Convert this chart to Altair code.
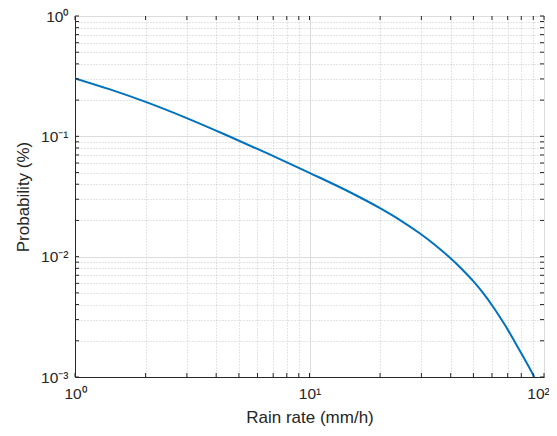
import altair as alt
import pandas as pd

# Curve values (rain rate in mm/h, probability in %)
rain_rate = [1, 1.41, 2, 3.012, 4.435, 6.653, 10, 14.885, 19.98, 24.32, 29.6, 34.29, 39.73,
             44.7, 49.94, 54.94, 60.42, 64.92, 69.74, 74.49, 80.33, 85.46, 90.92]
probability = [0.3034, 0.2454, 0.1932, 0.1411, 0.1021, 0.07181, 0.04973, 0.0343, 0.0253, 0.02015,
               0.01556, 0.01251, 0.009792, 0.007872, 0.006257, 0.004992, 0.00387, 0.003135,
               0.002511, 0.002007, 0.001553, 0.001251, 0.001002]

x_ticks = [1, 2, 3, 4, 5, 6, 7, 8, 9, 10, 20, 30, 40, 50, 60, 70, 80, 90, 100]
y_ticks = [0.001, 0.002, 0.003, 0.004, 0.005, 0.006, 0.007, 0.008, 0.009,
           0.01, 0.02, 0.03, 0.04, 0.05, 0.06, 0.07, 0.08, 0.09,
           0.1, 0.2, 0.3, 0.4, 0.5, 0.6, 0.7, 0.8, 0.9, 1]

W, H = 469, 361
INK = "#262626"
FONT = "Liberation Sans"

curve = pd.DataFrame({"x": rain_rate, "y": probability})
xt = pd.DataFrame({"x": x_ticks})
yt = pd.DataFrame({"y": y_ticks})

decade = "abs(log(datum.value)/LN10 - round(log(datum.value)/LN10)) < 1e-6"
exp = "round(log(datum.value)/LN10)"
label_expr = (
    f"!({decade}) ? '' : "
    f"{exp} == 0 ? '10⁰' : {exp} == 1 ? '10¹' : {exp} == 2 ? '10²' : "
    f"{exp} == -1 ? '10⁻¹' : {exp} == -2 ? '10⁻²' : {exp} == -3 ? '10⁻³' : ''"
)

grid_dash = {"condition": {"test": decade, "value": []}, "value": [1, 2]}
grid_color = {"condition": {"test": decade, "value": "#dcdcdc"}, "value": "#c8c8c8"}
last_label_shift = {"condition": {"test": "datum.value >= 99", "value": -6}, "value": 0}

x_axis = alt.Axis(values=x_ticks, labelExpr=label_expr, title="Rain rate (mm/h)",
                  grid=True, gridDash=grid_dash, gridColor=grid_color, ticks=False, tickSize=0,
                  labelPadding=9, titlePadding=8, labelOverlap=False, labelFlush=False,
                  labelOffset=last_label_shift)
y_axis = alt.Axis(values=y_ticks, labelExpr=label_expr, title="Probability (%)",
                  grid=True, gridDash=grid_dash, gridColor=grid_color, ticks=False, tickSize=0,
                  labelPadding=7, titlePadding=8, labelOverlap=False, labelFlush=False)

xs = alt.Scale(type="log", domain=[1, 100], nice=False)
ys = alt.Scale(type="log", domain=[0.001, 1], nice=False)

X = alt.X("x:Q", scale=xs, axis=x_axis)
Y = alt.Y("y:Q", scale=ys, axis=y_axis)

line = alt.Chart(curve).mark_line(color="#0072BD", strokeWidth=2, interpolate="monotone", clip=True).encode(
    x=X, y=Y
)

tick_style = dict(color=INK, strokeWidth=1)
bottom = alt.Chart(xt).mark_rule(**tick_style).encode(x=X, y=alt.value(H), y2=alt.value(H - 4))
top = alt.Chart(xt).mark_rule(**tick_style).encode(x=X, y=alt.value(0), y2=alt.value(4))
left = alt.Chart(yt).mark_rule(**tick_style).encode(y=Y, x=alt.value(0), x2=alt.value(4))
right = alt.Chart(yt).mark_rule(**tick_style).encode(y=Y, x=alt.value(W), x2=alt.value(W - 4))

chart = alt.layer(line, bottom, top, left, right).properties(
    width=W, height=H,
    autosize=alt.AutoSizeParams(type="none"),
    padding={"left": 67, "top": 8, "right": 5, "bottom": 50},
).configure_view(
    stroke=INK, strokeWidth=1
).configure_axis(
    domainColor=INK, domainWidth=1,
    labelFont=FONT, labelFontSize=15.5, labelColor=INK,
    titleFont=FONT, titleFontSize=17, titleFontWeight="normal", titleColor=INK,
)

chart.save("out.html", embed_options={"renderer": "svg", "actions": False})
